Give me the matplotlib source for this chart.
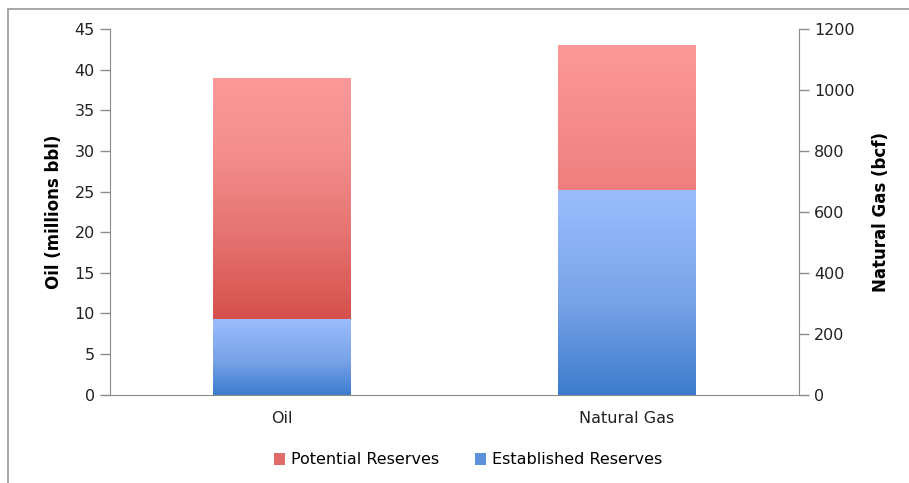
import matplotlib
matplotlib.use("Agg")
import matplotlib.pyplot as plt
import numpy as np
from matplotlib.colors import LinearSegmentedColormap
from matplotlib.patches import Rectangle, Patch

categories = ["Oil", "Natural Gas"]
oil_established = 9.3        # millions bbl
oil_potential = 29.7
gas_established = 672        # bcf
gas_potential = 475
series_names = ["Potential Reserves", "Established Reserves"]
left_ticks = [0, 5, 10, 15, 20, 25, 30, 35, 40, 45]
right_ticks = [0, 200, 400, 600, 800, 1000, 1200]

plt.rcParams['font.family'] = ['DejaVu Sans']
fig = plt.figure(figsize=(9.09, 4.83), dpi=100)

# outer border
fig.patches.append(Rectangle((8/909, -0.01), 1.0, (483-9)/483 + 0.01, transform=fig.transFigure,
                             fill=False, edgecolor='#9a9a9a', linewidth=1.2))

ax = fig.add_axes([110/909, (483-394.7)/483, 689/909, 365.7/483])
ax2 = ax.twinx()

tick_color = '#222222'
spine_color = '#8c8c8c'

def grad_bar(axis, x, bottom, height, stops, width=0.4):
    bars = axis.bar([x], [height], bottom=[bottom], width=width, color='none', edgecolor='none')
    rect = bars.patches[0]
    cmap = LinearSegmentedColormap.from_list('g', stops)
    grad = np.linspace(0, 1, 256).reshape(-1, 1)
    im = axis.imshow(grad, cmap=cmap, aspect='auto', origin='lower',
                     extent=[x - width/2, x + width/2, bottom, bottom + height],
                     interpolation='bicubic', zorder=2)
    im.set_clip_path(rect)

blue_stops = [(0, '#3c7bcc'), (0.45, '#78a3e8'), (1, '#9bbdfd')]
# Oil on left axis
grad_bar(ax, 0, 0, oil_established, blue_stops)
grad_bar(ax, 0, oil_established, oil_potential,
         [(0, '#d6504c'), (0.35, '#e57371'), (0.7, '#f48f8e'), (1, '#fd9999')])
# Gas on right axis
grad_bar(ax2, 1, 0, gas_established, blue_stops)
grad_bar(ax2, 1, gas_established, gas_potential, [(0, '#ee7f7e'), (1, '#fd9999')])

ax.set_xlim(-0.5, 1.5)
ax.set_ylim(0, 45)
ax2.set_ylim(0, 1200)
ax.set_yticks(left_ticks)
ax2.set_yticks(right_ticks)
ax.set_xticks([0, 1])
ax.set_xticklabels(categories)

for a in (ax, ax2):
    for s in a.spines.values():
        s.set_color(spine_color)
    a.spines['top'].set_visible(False)
ax.spines['right'].set_visible(False)
ax2.spines['left'].set_visible(False)
ax2.spines['bottom'].set_visible(False)

ax.tick_params(axis='y', direction='out', length=7, width=1, color=spine_color,
               labelsize=11.5, labelcolor=tick_color, pad=4)
ax2.tick_params(axis='y', direction='out', length=7, width=1, color=spine_color,
                labelsize=11.5, labelcolor=tick_color, pad=4)
ax.tick_params(axis='x', length=0, labelsize=11.5, labelcolor=tick_color, pad=12)

ax.set_ylabel("Oil (millions bbl)", fontsize=12, fontweight='bold', labelpad=8)
ax2.set_ylabel("Natural Gas (bcf)", fontsize=12, fontweight='bold', labelpad=12)

handles = [Patch(facecolor='#e06b69', edgecolor='none'),
           Patch(facecolor='#5e91dc', edgecolor='none')]
fig.legend(handles, series_names, loc='center', bbox_to_anchor=(0.515, (483-460)/483),
           ncol=2, frameon=False, fontsize=11.5, handlelength=0.7, handleheight=0.7,
           handletextpad=0.4, columnspacing=2.2)

fig.savefig("out.png", dpi=100)
